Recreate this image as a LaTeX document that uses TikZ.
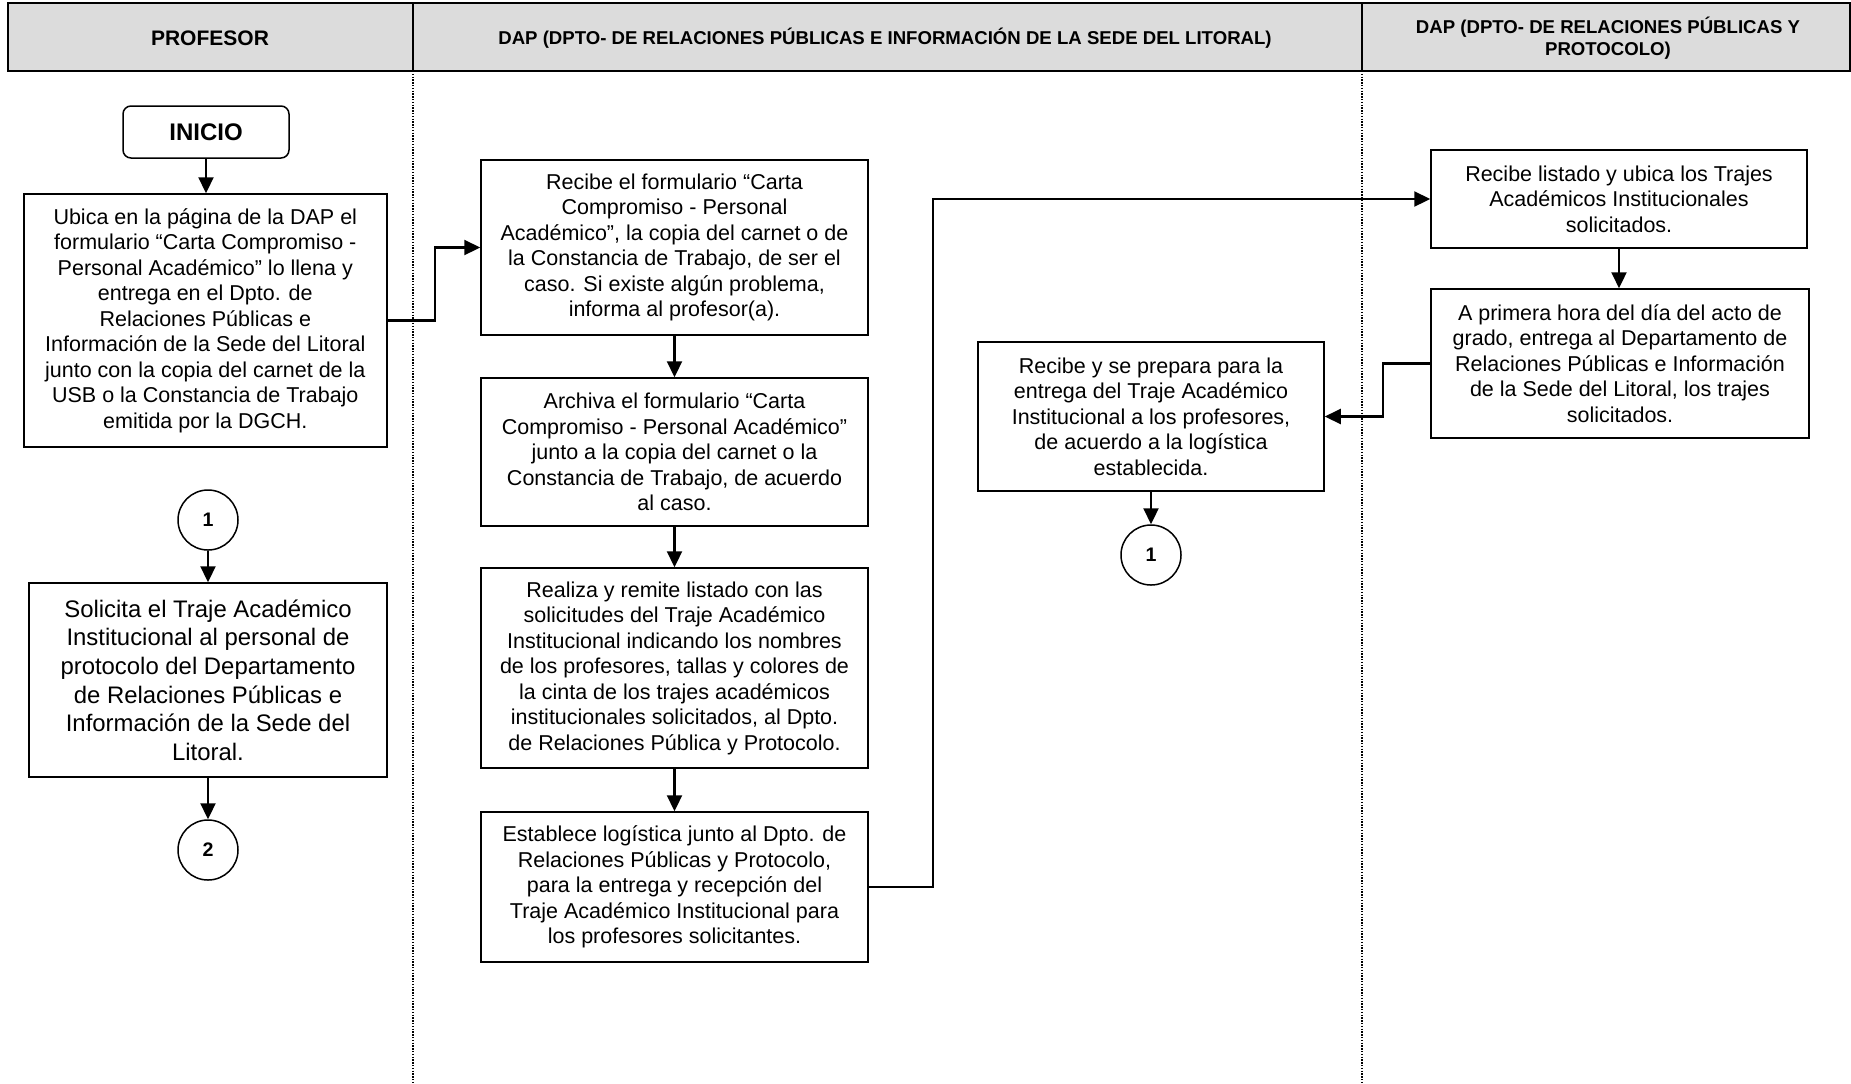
\documentclass[tikz,border=0pt]{standalone}
\usepackage{fontspec}
\setmainfont{Liberation Sans}
\usetikzlibrary{arrows.meta}
\definecolor{hdrgray}{RGB}{220,220,220}
\begin{document}
\begin{tikzpicture}[x=0.5pt,y=-0.5pt,
  box/.style={draw, line width=0.75pt, align=center, inner sep=0pt,
    font=\fontsize{10.75}{12.75}\selectfont},
  conn/.style={line width=1.1pt, -{Triangle[length=8pt,width=7.5pt]}},
  circ/.style={draw, circle, line width=0.75pt, minimum size=30pt, inner sep=0pt,
    font=\fontsize{9.8}{11}\selectfont\bfseries},
  lane/.style={line width=0.6pt, dash pattern=on 0.7pt off 0.7pt},
  hdr/.style={font=\fontsize{9.3}{11}\selectfont\bfseries, align=center}]
\useasboundingbox (0,0) rectangle (1851,1083);

% header
\draw[fill=hdrgray, line width=1pt] (8,3) rectangle (1850,71);
\draw[line width=1pt] (413,3) -- (413,71);
\draw[line width=1pt] (1362,3) -- (1362,71);
\node[font=\fontsize{10.5}{12}\selectfont\bfseries] (h1) at (210,38) {PROFESOR};
\node[hdr] (h2) at (885,38) {DAP (DPTO- DE RELACIONES PÚBLICAS E INFORMACIÓN DE LA SEDE DEL LITORAL)};
\node[hdr] (h3) at (1608,38) {DAP (DPTO- DE RELACIONES PÚBLICAS Y\\PROTOCOLO)};

% lanes
\draw[lane] (413,71) -- (413,1083);
\draw[lane] (1362,71) -- (1362,1083);

% nodes
\node[draw, rounded corners=4pt, line width=0.75pt, minimum width=83pt, minimum height=26pt,
  font=\fontsize{12}{14}\selectfont\bfseries] (inicio) at (206,132) {INICIO};

\node[box, minimum width=181.5pt, minimum height=126.5pt] (ubica) at (205.3,320.5)
 {Ubica en la página de la DAP el\\formulario “Carta Compromiso -\\Personal Académico” lo llena y\\entrega en el Dpto. de\\Relaciones Públicas e\\Información de la Sede del Litoral\\junto con la copia del carnet de la\\USB o la Constancia de Trabajo\\emitida por la DGCH.};

\node[circ] (c1a) at (208,520) {1};

\node[box, minimum width=179pt, minimum height=97pt, font=\fontsize{11.95}{14.3}\selectfont] (solicita) at (208,680)
 {Solicita el Traje Académico\\Institucional al personal de\\protocolo del Departamento\\de Relaciones Públicas e\\Información de la Sede del\\Litoral.};

\node[circ] (c2) at (208,850) {2};

\node[box, minimum width=193.5pt, minimum height=87.5pt] (recibe) at (674.5,247.5)
 {Recibe el formulario “Carta\\Compromiso - Personal\\Académico”, la copia del carnet o de\\la Constancia de Trabajo, de ser el\\caso. Si existe algún problema,\\informa al profesor(a).};

\node[box, minimum width=193.5pt, minimum height=74pt] (archiva) at (674.5,452)
 {Archiva el formulario “Carta\\Compromiso - Personal Académico”\\junto a la copia del carnet o la\\Constancia de Trabajo, de acuerdo\\al caso.};

\node[box, minimum width=193.5pt, minimum height=100pt] (realiza) at (674.5,668)
 {Realiza y remite listado con las\\solicitudes del Traje Académico\\Institucional indicando los nombres\\de los profesores, tallas y colores de\\la cinta de los trajes académicos\\institucionales solicitados, al Dpto.\\de Relaciones Pública y Protocolo.};

\node[box, minimum width=193.5pt, minimum height=75pt] (establece) at (674.5,887)
 {Establece logística junto al Dpto. de\\Relaciones Públicas y Protocolo,\\para la entrega y recepción del\\Traje Académico Institucional para\\los profesores solicitantes.};

\node[box, minimum width=188pt, minimum height=49pt] (listado) at (1619,199)
 {Recibe listado y ubica los Trajes\\Académicos Institucionales\\solicitados.};

\node[box, minimum width=189pt, minimum height=74.5pt] (aprimera) at (1620,363.5)
 {A primera hora del día del acto de\\grado, entrega al Departamento de\\Relaciones Públicas e Información\\de la Sede del Litoral, los trajes\\solicitados.};

\node[box, minimum width=173pt, minimum height=74.5pt] (recibey) at (1151,416.5)
 {Recibe y se prepara para la\\entrega del Traje Académico\\Institucional a los profesores,\\de acuerdo a la logística\\establecida.};

\node[circ] (c1b) at (1151,555) {1};

% junction coordinates
\coordinate (j1) at (435,0);
\coordinate (j2) at (933,0);
\coordinate (j3) at (1383,0);

% connectors
\draw[conn] (inicio.south) -- (inicio.south |- ubica.north);
\draw[conn] (ubica.east) -- (ubica.east -| j1) |- (recibe.west);
\draw[conn] (recibe.south) -- (archiva.north);
\draw[conn] (archiva.south) -- (realiza.north);
\draw[conn] (realiza.south) -- (establece.north);
\draw[conn] (establece.east) -- (establece.east -| j2) |- (listado.west);
\draw[conn] (listado.south) -- (listado.south |- aprimera.north);
\draw[conn] (aprimera.west) -- (aprimera.west -| j3) |- (recibey.east);
\draw[conn] (recibey.south) -- (c1b.north);
\draw[conn] (c1a.south) -- (solicita.north);
\draw[conn] (solicita.south) -- (c2.north);
\end{tikzpicture}
\end{document}
